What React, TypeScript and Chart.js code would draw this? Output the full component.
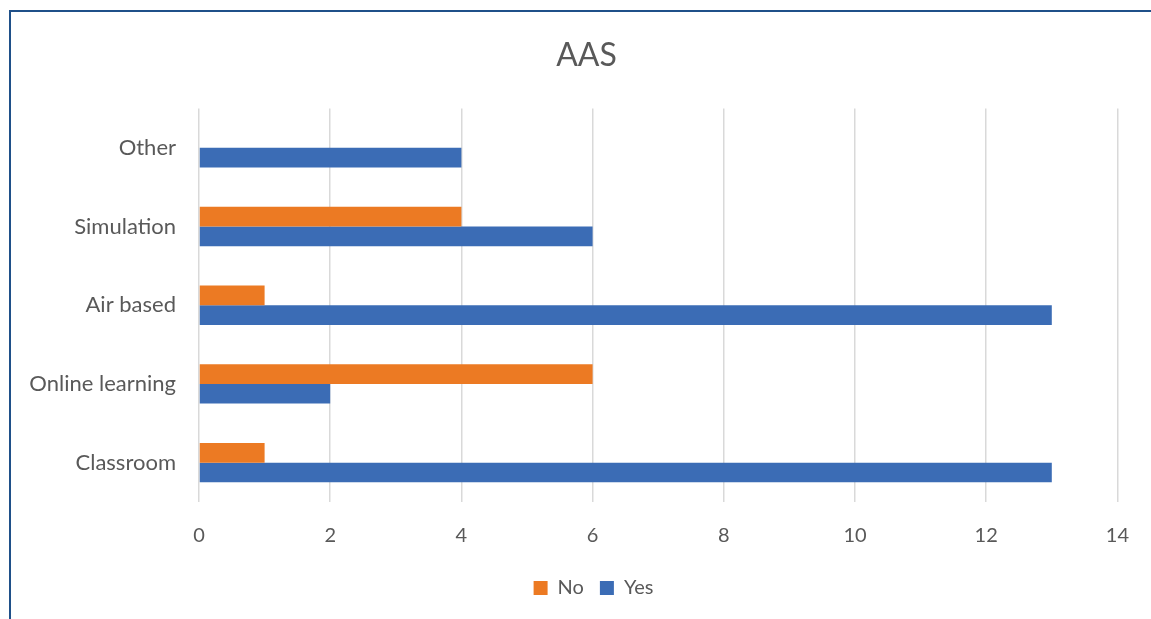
import React, { useEffect, useRef } from "react";
import { Chart, registerables } from "chart.js";

Chart.register(...registerables);

const categories = ["Other", "Simulation", "Air based", "Online learning", "Classroom"];
const noValues = [0, 4, 1, 6, 1];
const yesValues = [4, 6, 13, 2, 13];
const xTicks = [0, 2, 4, 6, 8, 10, 12, 14];

const FONT = "Lato, 'Open Sans', sans-serif";
const TEXT = "#595959";

// Title and legend are centred on the whole frame rather than on the plot box,
// so nudge their layout boxes after Chart.js has placed them.
const frameCentre = {
  id: "frameCentre",
  afterLayout(chart: any) {
    const shift = (box: any, dx: number, dy: number) => {
      if (!box) return;
      box.left += dx;
      box.right += dx;
      box.top += dy;
      box.bottom += dy;
    };
    shift(chart.titleBlock, 19, 0);
    shift(chart.legend, 26, -8);
  },
};

export default function App() {
  const ref = useRef<HTMLCanvasElement | null>(null);

  useEffect(() => {
    if (!ref.current) return;
    const chart = new Chart(ref.current, {
      type: "bar",
      data: {
        labels: categories,
        datasets: [
          {
            label: "No",
            data: noValues,
            backgroundColor: "#EC7A23",
            categoryPercentage: 0.5,
            barPercentage: 1,
          },
          {
            label: "Yes",
            data: yesValues,
            backgroundColor: "#3B6CB5",
            categoryPercentage: 0.5,
            barPercentage: 1,
          },
        ],
      },
      plugins: [frameCentre],
      options: {
        indexAxis: "y",
        responsive: false,
        animation: false,
        devicePixelRatio: 1,
        layout: { padding: { left: 10, right: 26, top: 20, bottom: 3 } },
        plugins: {
          title: {
            display: true,
            text: "AAS",
            color: TEXT,
            font: { family: FONT, size: 32, weight: "normal" },
            padding: { top: 16, bottom: 34 },
          },
          legend: {
            position: "bottom",
            labels: {
              color: TEXT,
              font: { family: FONT, size: 20 },
              boxWidth: 14,
              boxHeight: 14,
              padding: 16,
              useBorderRadius: false,
            },
          },
          tooltip: { enabled: false },
        },
        scales: {
          x: {
            min: 0,
            max: 14,
            afterBuildTicks: (scale: any) => {
              scale.ticks = xTicks.map((v) => ({ value: v }));
            },
            grid: { color: "#D9D9D9", lineWidth: 1.5, drawTicks: false },
            border: { display: false },
            ticks: {
              color: TEXT,
              font: { family: FONT, size: 20 },
              padding: 22,
            },
          },
          y: {
            grid: { display: false, drawTicks: false },
            border: { display: false },
            afterFit: (scale: any) => {
              scale.width = 189;
            },
            ticks: {
              color: TEXT,
              font: { family: FONT, size: 22 },
              padding: 23,
            },
          },
        },
      },
    });
    return () => chart.destroy();
  }, []);

  return (
    <div style={{ position: "fixed", left: 0, top: 0, width: 1151, height: 619, background: "#fff", overflow: "hidden" }}>
      <div
        style={{
          position: "absolute",
          left: 9,
          top: 10,
          width: 1200,
          height: 700,
          borderLeft: "2px solid #1F5089",
          borderTop: "2px solid #1F5089",
          boxSizing: "border-box",
        }}
      />
      <canvas ref={ref} width={1151} height={619} style={{ position: "absolute", left: 0, top: 0 }} />
    </div>
  );
}
